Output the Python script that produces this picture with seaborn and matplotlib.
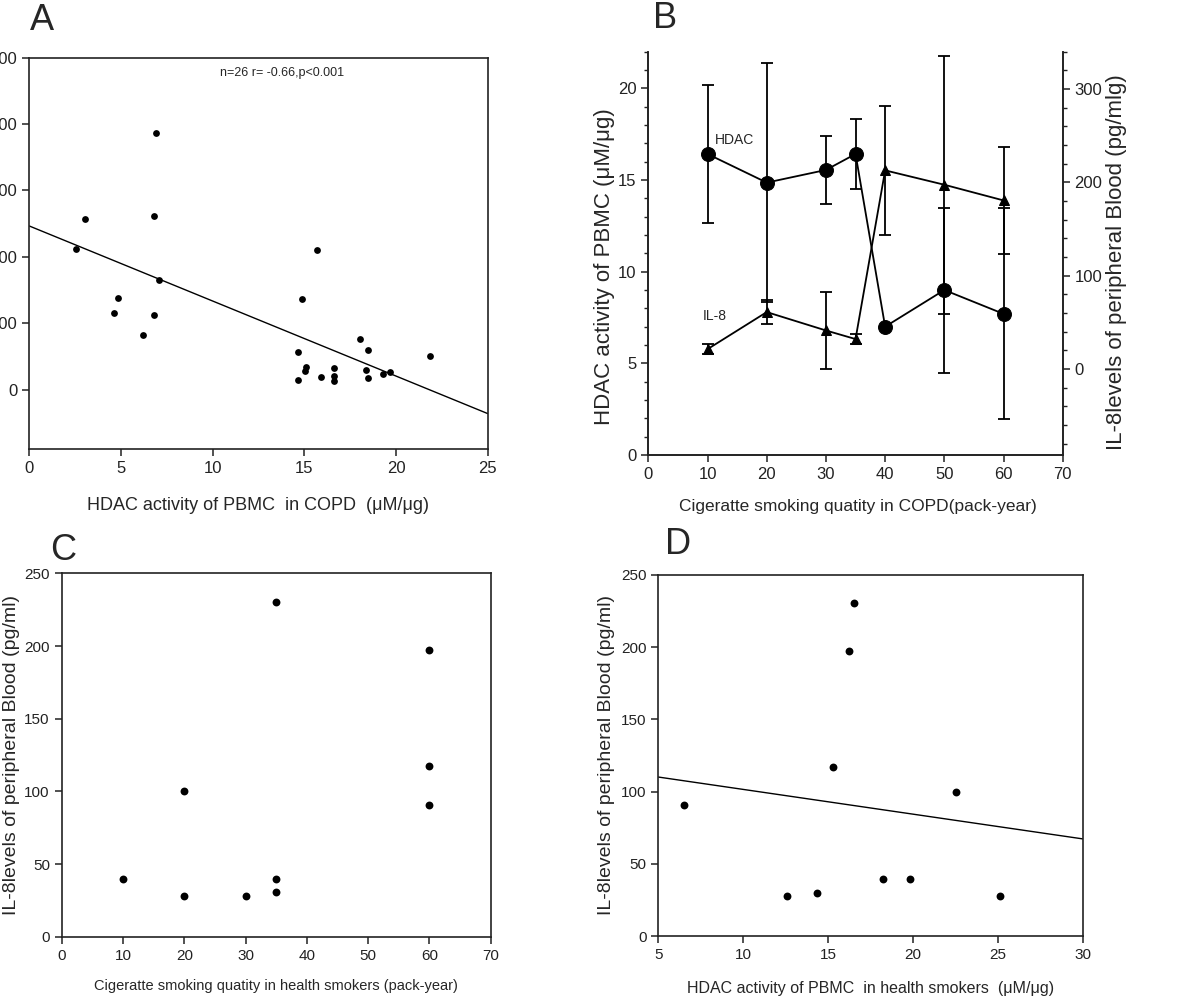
import pandas as pd
import seaborn as sns
import matplotlib.pyplot as plt
from matplotlib.ticker import MultipleLocator

# -----------------------------
# Data
# -----------------------------
# A: HDAC activity vs IL-8 in COPD (n=26)
a_hdac = [2.55, 3.04, 6.89, 6.78, 7.07, 4.84, 4.62, 6.82, 6.2,
          15.67, 14.87, 14.64, 14.65, 15.09, 15.05, 15.9, 16.6, 16.6, 16.6,
          18.02, 18.47, 18.38, 18.47, 19.27, 19.69, 21.87]
a_il8 = [211, 257, 387, 262, 165, 138, 115, 112, 82,
         210, 137, 57, 15, 34, 28, 19, 33, 21, 13,
         76, 59, 30, 18, 23, 26, 50]

# B: smoking quantity in COPD, HDAC (left axis) and IL-8 (right axis)
b_pack = [10, 20, 30, 35, 40, 50, 60]
b_hdac = [16.42, 14.86, 15.55, 16.42, 7.0, 9.0, 7.7]
b_hdac_err = [3.76, 6.5, 1.86, 1.9, 0.0, 4.5, 5.75]
b_il8 = [21.4, 61.1, 41.4, 32.2, 212.9, 197.5, 180.7]
b_il8_err = [5, 13, 40.8, 5.3, 68.7, 138, 57.3]

# C: smoking quantity vs IL-8 in health smokers
c_pack = [10, 20, 20, 30, 35, 35, 35, 60, 60, 60]
c_il8 = [39.7, 28.2, 100.2, 28.2, 230.5, 39.7, 30.5, 197.5, 117.2, 90.8]

# D: HDAC activity vs IL-8 in health smokers
d_hdac = [6.53, 12.56, 14.37, 15.29, 16.25, 16.55, 18.24, 19.81, 22.54, 25.13]
d_il8 = [90.7, 27.7, 30.0, 117.3, 197.4, 230.8, 39.2, 39.2, 100.0, 27.7]

df_a = pd.DataFrame({'hdac': a_hdac, 'il8': a_il8})
df_b = pd.DataFrame({'pack': b_pack, 'hdac': b_hdac, 'il8': b_il8})
df_c = pd.DataFrame({'pack': c_pack, 'il8': c_il8})
df_d = pd.DataFrame({'hdac': d_hdac, 'il8': d_il8})

# -----------------------------
# Style
# -----------------------------
sns.set_style('ticks')
plt.rcParams['font.family'] = ['Liberation Sans', 'DejaVu Sans']
plt.rcParams['axes.linewidth'] = 1.2
plt.rcParams['axes.edgecolor'] = '#222222'
plt.rcParams['xtick.color'] = '#222222'
plt.rcParams['ytick.color'] = '#222222'
plt.rcParams['xtick.major.size'] = 5
plt.rcParams['ytick.major.size'] = 5
plt.rcParams['xtick.major.width'] = 1.1
plt.rcParams['ytick.major.width'] = 1.1

fig = plt.figure(figsize=(12, 10.08), dpi=100)
ax_a = fig.add_axes([0.0244, 0.5543, 0.3820, 0.3885])
ax_b = fig.add_axes([0.5403, 0.5486, 0.3453, 0.4001])
ax_c = fig.add_axes([0.0514, 0.0707, 0.3575, 0.3605])
ax_d = fig.add_axes([0.5486, 0.0714, 0.3536, 0.3582])


def tick_font(ax, size=11):
    for lab in ax.get_xticklabels() + ax.get_yticklabels():
        lab.set_fontsize(size)


# -----------------------------
# A
# -----------------------------
ax_a.set_xlim(0, 25)
sns.regplot(x='hdac', y='il8', data=df_a, ax=ax_a, ci=None, truncate=False,
            scatter_kws={'s': 24, 'color': 'black', 'alpha': 1, 'linewidths': 0},
            line_kws={'color': 'black', 'lw': 1.0})
ax_a.set_xlim(0, 25)
ax_a.set_ylim(-90, 500)
ax_a.xaxis.set_major_locator(MultipleLocator(5))
ax_a.yaxis.set_major_locator(MultipleLocator(100))
ax_a.set_xlabel('HDAC activity of PBMC  in COPD  (μM/μg)', fontsize=13)
ax_a.xaxis.set_label_coords(0.5, -0.122)
ax_a.set_ylabel('')
ax_a.text(13.8, 477, 'n=26 r= -0.66,p<0.001', ha='center', va='center', fontsize=9)
tick_font(ax_a, 12)

# -----------------------------
# B
# -----------------------------
ax_b2 = ax_b.twinx()
sns.lineplot(x='pack', y='hdac', data=df_b, ax=ax_b, color='black', lw=1.3,
             marker='o', markersize=10, markeredgecolor='black')
ax_b.errorbar(b_pack, b_hdac, yerr=b_hdac_err, fmt='none', ecolor='black',
              elinewidth=1.3, capsize=4, capthick=1.3)
sns.lineplot(x='pack', y='il8', data=df_b, ax=ax_b2, color='black', lw=1.3,
             marker='^', markersize=7, markeredgecolor='black')
ax_b2.errorbar(b_pack, b_il8, yerr=b_il8_err, fmt='none', ecolor='black',
               elinewidth=1.3, capsize=4, capthick=1.3)
ax_b.set_xlim(0, 70)
ax_b.set_ylim(0, 22)
ax_b2.set_ylim(-92, 340)
ax_b.xaxis.set_major_locator(MultipleLocator(10))
ax_b.yaxis.set_major_locator(MultipleLocator(5))
ax_b.yaxis.set_minor_locator(MultipleLocator(1))
ax_b2.yaxis.set_major_locator(MultipleLocator(100))
ax_b2.yaxis.set_minor_locator(MultipleLocator(20))
ax_b2.set_yticks([0, 100, 200, 300])
for a in (ax_b, ax_b2):
    a.tick_params(which='minor', length=3, width=1.0)
    a.spines['top'].set_visible(False)
ax_b.set_xlabel('Cigeratte smoking quatity in COPD(pack-year)', fontsize=12.5)
ax_b.xaxis.set_label_coords(0.505, -0.108)
ax_b.set_ylabel('HDAC activity of PBMC (μM/μg)', fontsize=16)
ax_b.yaxis.set_label_coords(-0.080, 0.467)
ax_b2.set_ylabel('IL-8levels of peripheral Blood (pg/mlg)', fontsize=16)
ax_b2.yaxis.set_label_coords(1.104, 0.479)
ax_b.text(14.6, 17.2, 'HDAC', ha='center', va='center', fontsize=10)
ax_b.text(11.2, 7.58, 'IL-8', ha='center', va='center', fontsize=10)
tick_font(ax_b, 12)
tick_font(ax_b2, 12)

# -----------------------------
# C
# -----------------------------
sns.scatterplot(x='pack', y='il8', data=df_c, ax=ax_c, color='black', s=32,
                linewidth=0)
ax_c.set_xlim(0, 70)
ax_c.set_ylim(0, 250)
ax_c.xaxis.set_major_locator(MultipleLocator(10))
ax_c.yaxis.set_major_locator(MultipleLocator(50))
ax_c.set_xlabel('Cigeratte smoking quatity in health smokers (pack-year)', fontsize=10.5)
ax_c.xaxis.set_label_coords(0.5, -0.117)
ax_c.set_ylabel('IL-8levels of peripheral Blood (pg/ml)', fontsize=14)
ax_c.yaxis.set_label_coords(-0.097, 0.5)
tick_font(ax_c, 11)

# -----------------------------
# D
# -----------------------------
ax_d.set_xlim(5, 30)
sns.regplot(x='hdac', y='il8', data=df_d, ax=ax_d, ci=None, truncate=False,
            scatter_kws={'s': 32, 'color': 'black', 'alpha': 1, 'linewidths': 0},
            line_kws={'color': 'black', 'lw': 1.0})
ax_d.set_xlim(5, 30)
ax_d.set_ylim(0, 250)
ax_d.xaxis.set_major_locator(MultipleLocator(5))
ax_d.yaxis.set_major_locator(MultipleLocator(50))
ax_d.set_xlabel('HDAC activity of PBMC  in health smokers  (μM/μg)', fontsize=11.5)
ax_d.xaxis.set_label_coords(0.5, -0.125)
ax_d.set_ylabel('IL-8levels of peripheral Blood (pg/ml)', fontsize=14)
ax_d.yaxis.set_label_coords(-0.102, 0.5)
tick_font(ax_d, 11)

# -----------------------------
# Panel letters
# -----------------------------
for lab, x, y in [('A', 42, 20), ('B', 665, 19), ('C', 63, 550), ('D', 678, 545)]:
    fig.text(x / 1200, 1 - y / 1008, lab, ha='center', va='center', fontsize=26)

fig.savefig('out.png', dpi=100)
